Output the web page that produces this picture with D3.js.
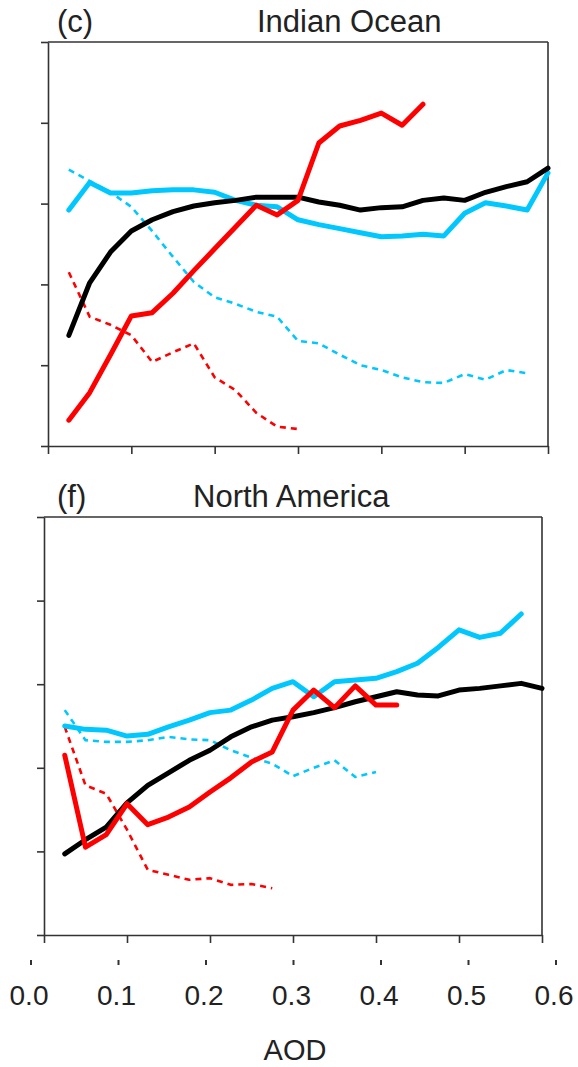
<!DOCTYPE html>
<html>
<head>
<meta charset="utf-8">
<script src="https://cdn.jsdelivr.net/npm/d3@7"></script>
<style>
  html, body { margin: 0; padding: 0; background: #fff; }
  svg { display: block; }
  text { font-family: "Liberation Sans", Arial, sans-serif; fill: #222; }
</style>
</head>
<body>
<svg id="chart" width="578" height="1067"></svg>
<script>
// ---------- data ----------
const aodBins = [0.025,0.05,0.075,0.1,0.125,0.15,0.175,0.2,0.225,0.25,0.275,0.3,
                 0.325,0.35,0.375,0.4,0.425,0.45,0.475,0.5,0.525,0.55,0.575,0.6];
const xTickValues = [0,0.1,0.2,0.3,0.4,0.5,0.6];
const xTickLabels = ["0.0","0.1","0.2","0.3","0.4","0.5","0.6"];
const yTickValues = [0,1,2,3,4,5];
const panelLetters = ["(c)","(f)"];
const panelTitles = ["Indian Ocean","North America"];
const xAxisTitle = "AOD";

// Indian Ocean
const ioBlack      = [1.37,2.02,2.40,2.66,2.80,2.90,2.97,3.01,3.04,3.08,3.08,3.08,3.02,2.98,2.92,2.95,2.96,3.04,3.07,3.04,3.14,3.21,3.27,3.44];
const ioCyan       = [2.92,3.26,3.13,3.13,3.16,3.17,3.17,3.14,3.04,2.98,2.96,2.80,2.74,2.69,2.64,2.59,2.60,2.62,2.60,2.88,3.01,2.97,2.92,3.38];
const ioRed        = [0.32,0.66,1.13,1.61,1.65,1.89,2.17,2.44,2.71,2.98,2.86,3.04,3.75,3.96,4.03,4.12,3.97,4.23];
const ioCyanDash   = [3.42,3.28,3.14,2.96,2.66,2.34,2.03,1.84,1.76,1.66,1.60,1.30,1.27,1.13,1.00,0.94,0.85,0.79,0.78,0.89,0.82,0.94,0.90];
const ioRedDash    = [2.15,1.60,1.50,1.37,1.04,1.16,1.27,0.85,0.69,0.41,0.24,0.21];

// North America
const naBlack      = [0.97,1.14,1.29,1.58,1.79,1.94,2.09,2.21,2.37,2.49,2.57,2.61,2.66,2.72,2.79,2.85,2.91,2.87,2.86,2.93,2.95,2.98,3.01,2.95];
const naCyan       = [2.50,2.46,2.45,2.38,2.40,2.49,2.57,2.66,2.69,2.81,2.95,3.03,2.85,3.03,3.05,3.07,3.15,3.25,3.44,3.65,3.56,3.61,3.84];
const naRed        = [2.15,1.05,1.20,1.57,1.32,1.41,1.53,1.71,1.88,2.07,2.19,2.69,2.93,2.72,2.98,2.75,2.75];
const naCyanDash   = [2.69,2.33,2.31,2.31,2.33,2.37,2.34,2.33,2.21,2.12,2.05,1.90,2.00,2.09,1.89,1.95];
const naRedDash    = [2.49,1.79,1.69,1.26,0.78,0.72,0.66,0.68,0.60,0.61,0.56];

const RED = "#ff0000", CYAN = "#00c8ff", BLACK = "#000000";

const panels = [
  { letter: panelLetters[0], title: panelTitles[0], titleX: 257, letterX: 57, titleY: 32,
    left: 48, right: 548, top: 42, bottom: 446,
    series: [
      { v: ioCyanDash, c: CYAN, dash: true },
      { v: ioRedDash,  c: RED,  dash: true },
      { v: ioCyan,     c: CYAN },
      { v: ioBlack,    c: BLACK },
      { v: ioRed,      c: RED }
    ] },
  { letter: panelLetters[1], title: panelTitles[1], titleX: 193, letterX: 57, titleY: 507,
    left: 44, right: 542, top: 517, bottom: 935,
    series: [
      { v: naCyanDash, c: CYAN, dash: true },
      { v: naRedDash,  c: RED,  dash: true },
      { v: naCyan,     c: CYAN },
      { v: naBlack,    c: BLACK },
      { v: naRed,      c: RED }
    ] }
];

const svg = d3.select("#chart");
const axisColor = "#333";

panels.forEach(p => {
  const x = d3.scaleLinear().domain([0, 0.6]).range([p.left, p.right]);
  const y = d3.scaleLinear().domain([0, 5]).range([p.bottom, p.top]);
  const g = svg.append("g");

  // titles
  g.append("text").attr("x", p.letterX).attr("y", p.titleY)
    .attr("font-size", 31).text(p.letter);
  g.append("text").attr("x", p.titleX).attr("y", p.titleY)
    .attr("font-size", 31).text(p.title);

  // frame (top & right)
  g.append("line").attr("x1", p.left).attr("x2", p.right).attr("y1", p.top).attr("y2", p.top)
    .attr("stroke", axisColor).attr("stroke-width", 1.6);
  g.append("line").attr("x1", p.right).attr("x2", p.right).attr("y1", p.top).attr("y2", p.bottom)
    .attr("stroke", axisColor).attr("stroke-width", 1.6);

  // left axis
  const yAxis = d3.axisLeft(y).tickValues(yTickValues).tickSize(7).tickFormat("").tickSizeOuter(0);
  const ya = g.append("g").attr("transform", `translate(${p.left},0)`).call(yAxis);
  ya.selectAll("path,line").attr("stroke", axisColor).attr("stroke-width", 1.6);

  // bottom axis
  const xAxis = d3.axisBottom(x).tickValues(xTickValues).tickSize(8).tickFormat("").tickSizeOuter(0);
  const xa = g.append("g").attr("transform", `translate(0,${p.bottom})`).call(xAxis);
  xa.selectAll("path,line").attr("stroke", axisColor).attr("stroke-width", 1.6);

  // lines
  p.series.forEach(s => {
    const data = s.v.map((val, i) => [aodBins[i], val]);
    const line = d3.line().x(d => x(d[0])).y(d => y(d[1]));
    g.append("path").datum(data)
      .attr("d", line)
      .attr("fill", "none")
      .attr("stroke", s.c)
      .attr("stroke-width", s.dash ? 2.6 : 5)
      .attr("stroke-dasharray", s.dash ? "6,5" : null)
      .attr("stroke-linecap", s.dash ? "butt" : "round")
      .attr("stroke-linejoin", "round");
  });
});

// separate tick-label axis below
const xl = d3.scaleLinear().domain([0, 0.6]).range([31, 556]);
const lab = svg.append("g");
lab.selectAll("rect.tk").data(xTickValues).enter().append("rect")
  .attr("class", "tk")
  .attr("x", d => xl(d) - 1).attr("y", 960).attr("width", 2).attr("height", 5)
  .attr("fill", "#333");
lab.selectAll("text.tl").data(xTickValues).enter().append("text")
  .attr("class", "tl")
  .attr("x", d => xl(d) - 2).attr("y", 1005)
  .attr("text-anchor", "middle").attr("font-size", 28)
  .text((d, i) => xTickLabels[i]);
svg.append("text").attr("x", 295).attr("y", 1060).attr("text-anchor", "middle")
  .attr("font-size", 29).text(xAxisTitle);
</script>
</body>
</html>
